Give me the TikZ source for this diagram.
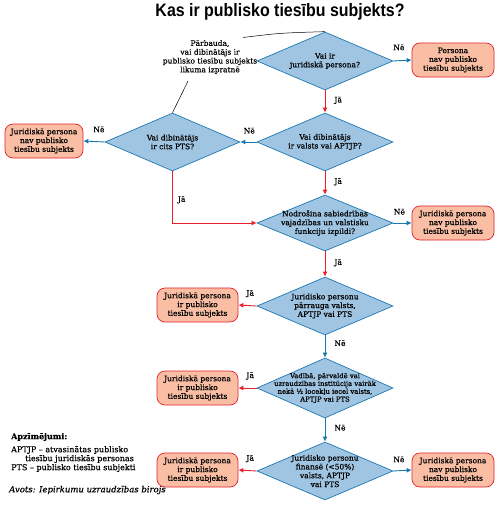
\documentclass[tikz,border=0pt]{standalone}
\usepackage{fontspec}
\setmainfont{DejaVu Serif}[FakeBold=0.5]
\newfontfamily\titlefont{Liberation Sans}
\usetikzlibrary{shapes.geometric,arrows.meta}
\definecolor{dfill}{RGB}{160,197,227}
\definecolor{dline}{RGB}{26,120,178}
\definecolor{bfill}{RGB}{250,190,165}
\definecolor{bline}{RGB}{228,32,42}
\definecolor{ared}{RGB}{232,30,40}
\definecolor{ablue}{RGB}{22,118,176}
\begin{document}
\begin{tikzpicture}[x=1pt,y=-1pt,
  txt/.style={font=\fontsize{7.5}{8.8}\selectfont},
  dec/.style={diamond, draw=dline, fill=dfill, line width=0.7pt, inner sep=0pt,
    minimum width=136pt, minimum height=58pt},
  dtext/.style={txt, align=center, inner sep=0pt},
  endbox/.style={txt, draw=bline, fill=bfill, line width=0.7pt, rounded corners=8pt,
    minimum width=82pt, minimum height=34pt, align=center, inner sep=1pt},
  yes/.style={draw=ared, line width=0.9pt, -{Latex[length=5pt,width=5pt]}},
  no/.style={draw=ablue, line width=0.9pt, -{Latex[length=5pt,width=5pt]}},
  lbl/.style={txt, inner sep=0pt},
  note/.style={draw=black, line width=0.5pt}
]
\useasboundingbox (0,0) rectangle (498,506);

% title
\node (title) at (280,12) {\scalebox{0.886}[1]{\titlefont\bfseries\fontsize{18}{20}\selectfont Kas ir publisko tiesību subjekts?}};

% decisions
\node[dec, label={[dtext]center:{Vai ir\\juridiskā persona?}}] (d1) at (325,61) {};
\node[dec, label={[dtext]center:{Vai dibinātājs\\ir valsts vai APTJP?}}] (d2) at (325,142) {};
\node[dec, minimum width=135pt, label={[dtext]center:{Vai dibinātājs\\ir cits PTS?}}] (d3) at (172.5,142) {};
\node[dec, minimum height=56pt, label={[dtext]center:{Nodrošina sabiedrības\\vajadzības un valstisku\\funkciju izpildi?}}] (d4) at (325,223) {};
\node[dec, label={[dtext]center:{Juridisko personu\\pārrauga valsts,\\APTJP vai PTS}}] (d5) at (325,306) {};
\node[dec, minimum height=60pt, label={[dtext, font=\fontsize{6.8}{7.8}\selectfont]center:{Vadībā, pārvaldē vai\\uzraudzības institūcija vairāk\\nekā ½ locekļu iecel valsts,\\APTJP vai PTS}}] (d6) at (325,388) {};
\node[dec, label={[dtext]center:{Juridisko personu\\finansē (<50\%)\\valsts, APTJP\\vai PTS}}] (d7) at (325,471) {};

% end boxes
\node[endbox] (b1) at (453,60) {Persona\\nav publisko\\tiesību subjekts};
\node[endbox, minimum width=78pt] (b2) at (44,141) {Juridiskā persona\\nav publisko\\tiesību subjekts};
\node[endbox] (b3) at (453,223) {Juridiskā persona\\nav publisko\\tiesību subjekts};
\node[endbox, minimum width=81pt] (b4) at (197.5,305) {Juridiskā persona\\ir publisko\\tiesību subjekts};
\node[endbox, minimum width=81pt] (b5) at (197.5,388) {Juridiskā persona\\ir publisko\\tiesību subjekts};
\node[endbox, minimum width=81pt] (b6) at (197.5,470) {Juridiskā persona\\ir publisko\\tiesību subjekts};
\node[endbox] (b7) at (453,470) {Juridiskā persona\\nav publisko\\tiesību subjekts};

% connectors
\draw[no] (d1.east) -- node[lbl, pos=0.3, above=10pt] {Nē} (b1.west);
\draw[yes] (d1.south) -- node[lbl, pos=0.45, right=9pt] {Jā} (d2.north);
\draw[no] (d2.west) -- node[lbl, pos=0.45, above=8pt] {Nē} (d3.east);
\draw[no] (d3.west) -- node[lbl, pos=0.27, above=9pt] {Nē} (b2.east);
\draw[yes] (d3.south) -- node[lbl, pos=0.55, right=5pt] {Jā} (d3.south |- d4.west) -- (d4.west);
\draw[yes] (d2.south) -- node[lbl, pos=0.45, right=9pt] {Jā} (d4.north);
\draw[no] (d4.east) -- node[lbl, pos=0.33, above=8pt] {Nē} (b3.west);
\draw[yes] (d4.south) -- node[lbl, pos=0.45, right=9pt] {Jā} (d5.north);
\draw[yes] (d5.west) -- node[lbl, pos=0.35, above=8pt] {Jā} (b4.east);
\draw[no] (d5.south) -- node[lbl, pos=0.35, right=9pt] {Nē} (d6.north);
\draw[yes] (d6.west) -- node[lbl, pos=0.35, above=8pt] {Jā} (b5.east);
\draw[no] (d6.south) -- node[lbl, pos=0.4, right=9pt] {Nē} (d7.north);
\draw[yes] (d7.west) -- node[lbl, pos=0.35, above=8pt] {Jā} (b6.east);
\draw[no] (d7.east) -- node[lbl, pos=0.3, above=8pt] {Nē} (b7.west);

% annotation
\node[dtext] (ann) at (210,57) {Pārbauda,\\vai dibinātājs ir\\publisko tiesību subjekts\\likuma izpratnē};
\coordinate (a1) at (243,37.5);
\coordinate (a2) at (188,81);
\draw[note] (a1) .. controls (280,33) .. (d1.north);
\draw[note] (a2) -- (d3.north);

% legend
\node[txt, anchor=west, inner sep=0pt, font=\fontsize{8}{9}\selectfont\bfseries] (lg1) at (11,437) {Apzīmējumi:};
\node[txt, anchor=west, inner sep=0pt, font=\fontsize{8}{9}\selectfont] (lg2) at (11,450) {APTJP – atvasinātas publisko};
\node[txt, anchor=west, inner sep=0pt, font=\fontsize{8}{9}\selectfont] (lg3) at (25,459) {tiesību juridiskās personas};
\node[txt, anchor=west, inner sep=0pt, font=\fontsize{8}{9}\selectfont] (lg4) at (11,468) {PTS – publisko tiesību subjekti};
\node[txt, anchor=west, inner sep=0pt, font=\fontsize{8.5}{10}\selectfont\itshape] (src) at (9,490) {Avots: Iepirkumu uzraudzības birojs};
\end{tikzpicture}
\end{document}
